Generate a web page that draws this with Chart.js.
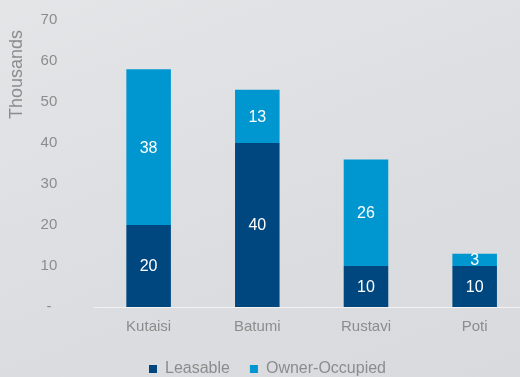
<!DOCTYPE html>
<html>
<head>
    <title>Housing stock by city</title>
    <meta charset="UTF-8">
    <style>
        html, body { margin: 0; padding: 0; overflow: hidden; }
        body { width: 520px; height: 377px; background: linear-gradient(160deg, #e4e5e7 0%, #dcdde0 60%, #d9dadd 100%); }
        #stock { position: absolute; left: 0; top: 0; }
    </style>
</head>
<body>

<canvas id="stock" width="529" height="387"></canvas>

<script src="https://cdn.jsdelivr.net/npm/chart.js"></script>
<script>

    // cities and stock (thousands)
    var city_names = ["Kutaisi", "Batumi", "Rustavi", "Poti"];
    var leasable = [20, 40, 10, 10];
    var owner_occupied = [38, 13, 26, 3];
    var y_ticks = [0, 10, 20, 30, 40, 50, 60, 70];

    var font_family = "'Liberation Sans', Arial, sans-serif";
    var grey_text = "#8c8c8c";

    // white numbers in the middle of every segment
    var segment_labels = {
        id: "segment_labels",
        afterDatasetsDraw: function(chart){
            var ctx = chart.ctx;
            ctx.save();
            ctx.fillStyle = "#ffffff";
            ctx.font = "16px " + font_family;
            ctx.textAlign = "center";
            ctx.textBaseline = "middle";
            chart.data.datasets.forEach(function(ds, i){
                var meta = chart.getDatasetMeta(i);
                meta.data.forEach(function(bar, j){
                    var p = bar.getCenterPoint();
                    ctx.fillText(ds.data[j], p.x, p.y + 1);
                });
            });
            ctx.restore();
        }
    };

    const data = {
        labels: city_names,
        datasets: [{
            label: "Leasable",
            data: leasable,
            backgroundColor: "#00477f",
            borderWidth: 0,
            barPercentage: 0.41,
            categoryPercentage: 1
        }, {
            label: "Owner-Occupied",
            data: owner_occupied,
            backgroundColor: "#0096d0",
            borderWidth: 0,
            barPercentage: 0.41,
            categoryPercentage: 1
        }]
    };

    const config = {
        type: "bar",
        data: data,
        plugins: [segment_labels],
        options: {
            responsive: false,
            animation: false,
            layout: {
                padding: { left: 6, top: 20, right: 0, bottom: 0 }
            },
            plugins: {
                tooltip: { enabled: false },
                legend: {
                    position: "bottom",
                    labels: {
                        boxWidth: 8,
                        boxHeight: 8,
                        padding: 20,
                        color: grey_text,
                        font: { family: font_family, size: 16 }
                    }
                }
            },
            scales: {
                x: {
                    stacked: true,
                    grid: { display: false, drawTicks: false },
                    border: { display: true, color: "#f2f2f2", width: 1 },
                    ticks: {
                        color: grey_text,
                        padding: 11,
                        font: { family: font_family, size: 15 }
                    },
                    // pull the legend a bit closer to the city names
                    afterFit: function(axis){
                        axis.height -= 6;
                    }
                },
                y: {
                    stacked: true,
                    min: 0,
                    max: 70,
                    afterBuildTicks: function(axis){
                        axis.ticks = y_ticks.map(function(v){ return { value: v }; });
                    },
                    grid: { display: false, tickLength: 37 },
                    border: { display: false },
                    title: {
                        display: true,
                        text: "Thousands  ",
                        align: "end",
                        color: grey_text,
                        padding: { top: 0, bottom: 13 },
                        font: { family: font_family, size: 18 }
                    },
                    ticks: {
                        color: grey_text,
                        padding: 0,
                        crossAlign: "center",
                        font: { family: font_family, size: 15 },
                        callback: function(v){ return v === 0 ? "-" : v; }
                    }
                }
            }
        }
    };

    window.stock_chart = new Chart(document.getElementById("stock"), config);

</script>
</body>
</html>
